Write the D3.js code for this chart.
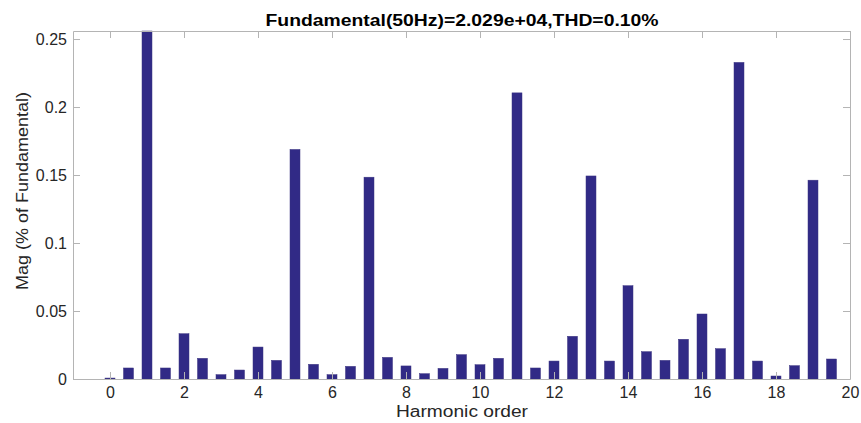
<!DOCTYPE html>
<html>
<head>
<meta charset="utf-8">
<script src="https://cdn.jsdelivr.net/npm/d3@7"></script>
<style>
  body { margin: 0; background: #fff; }
  svg { display: block; font-family: "Liberation Sans", Arial, sans-serif; }
</style>
</head>
<body>
<div class="canvas"></div>
<script>
// harmonic orders (step 0.5) and magnitudes
const orders = d3.range(0, 20, 0.5);
const mags = [
  0.0007, 0.0081, 0.2559, 0.0081, 0.0333, 0.0152, 0.0032, 0.0066,
  0.0235, 0.0137, 0.1688, 0.0108, 0.0032, 0.0093, 0.1484, 0.0159,
  0.0096, 0.0039, 0.0078, 0.0179, 0.0105, 0.0152, 0.2104, 0.0081,
  0.0132, 0.0314, 0.1493, 0.0132, 0.0686, 0.0201, 0.0137, 0.0292,
  0.0478, 0.0223, 0.2328, 0.0132, 0.0022, 0.0098, 0.1462, 0.0147
];
const xTicks = d3.range(0, 21, 2);
const yTicks = [0, 0.05, 0.1, 0.15, 0.2, 0.25];

const data = orders.map((o, i) => ({ order: o, mag: mags[i] }));

const svgWidth = 861, svgHeight = 423;
const margin = { top: 31, right: 11, bottom: 44, left: 73 };
const width = svgWidth - margin.left - margin.right;
const height = svgHeight - margin.top - margin.bottom;

const svg = d3.select(".canvas").append("svg")
  .attr("width", svgWidth)
  .attr("height", svgHeight);

const g = svg.append("g")
  .attr("transform", `translate(${margin.left},${margin.top})`);

const x = d3.scaleLinear().domain([-1, 20]).range([0, width]);
const y = d3.scaleLinear().domain([0, d3.max(mags)]).range([height, 0]);

const barW = x(0.27) - x(0);

// bars
g.selectAll("rect.bar")
  .data(data)
  .join("rect")
  .attr("class", "bar")
  .attr("x", d => x(d.order) - barW / 2)
  .attr("y", d => y(d.mag))
  .attr("width", barW)
  .attr("height", d => height - y(d.mag))
  .attr("fill", "#312a86")
  .attr("stroke", "#3a3380")
  .attr("stroke-width", 0.5);

const axisColor = "#b4b4b4";
const tickLen = 7;

function styleAxis(sel) {
  sel.select(".domain").attr("stroke", axisColor);
  sel.selectAll(".tick line").attr("stroke", axisColor);
  sel.selectAll(".tick text")
    .attr("fill", "#262626")
    .style("font-size", "16px");
}

// bottom / left axes with labels
g.append("g")
  .attr("transform", `translate(0,${height})`)
  .call(d3.axisBottom(x).tickValues(xTicks).tickSizeInner(-tickLen).tickSizeOuter(0).tickPadding(8))
  .call(styleAxis);

g.append("g")
  .call(d3.axisLeft(y).tickValues(yTicks).tickFormat(d => d === 0 ? "0" : String(d)).tickSizeInner(-tickLen).tickSizeOuter(0).tickPadding(6))
  .call(styleAxis);

// top / right axes (box), ticks only
g.append("g")
  .call(d3.axisTop(x).tickValues(xTicks).tickSizeInner(-tickLen).tickSizeOuter(0).tickFormat(""))
  .call(styleAxis);

g.append("g")
  .attr("transform", `translate(${width},0)`)
  .call(d3.axisRight(y).tickValues(yTicks).tickSizeInner(-tickLen).tickSizeOuter(0).tickFormat(""))
  .call(styleAxis);

// title (the reference text is drawn wide)
svg.append("text")
  .attr("x", 462)
  .attr("y", 26)
  .attr("text-anchor", "middle")
  .attr("textLength", 393)
  .attr("lengthAdjust", "spacingAndGlyphs")
  .style("font-size", "16px")
  .style("font-weight", "bold")
  .attr("fill", "#000")
  .text("Fundamental(50Hz)=2.029e+04,THD=0.10%");

// x label
svg.append("text")
  .attr("x", 462)
  .attr("y", 417)
  .attr("text-anchor", "middle")
  .attr("textLength", 132)
  .attr("lengthAdjust", "spacingAndGlyphs")
  .style("font-size", "16px")
  .attr("fill", "#262626")
  .text("Harmonic order");

// y label
svg.append("text")
  .attr("transform", "translate(28,191) rotate(-90)")
  .attr("text-anchor", "middle")
  .attr("textLength", 198)
  .attr("lengthAdjust", "spacingAndGlyphs")
  .style("font-size", "16px")
  .attr("fill", "#262626")
  .text("Mag (% of Fundamental)");
</script>
</body>
</html>
